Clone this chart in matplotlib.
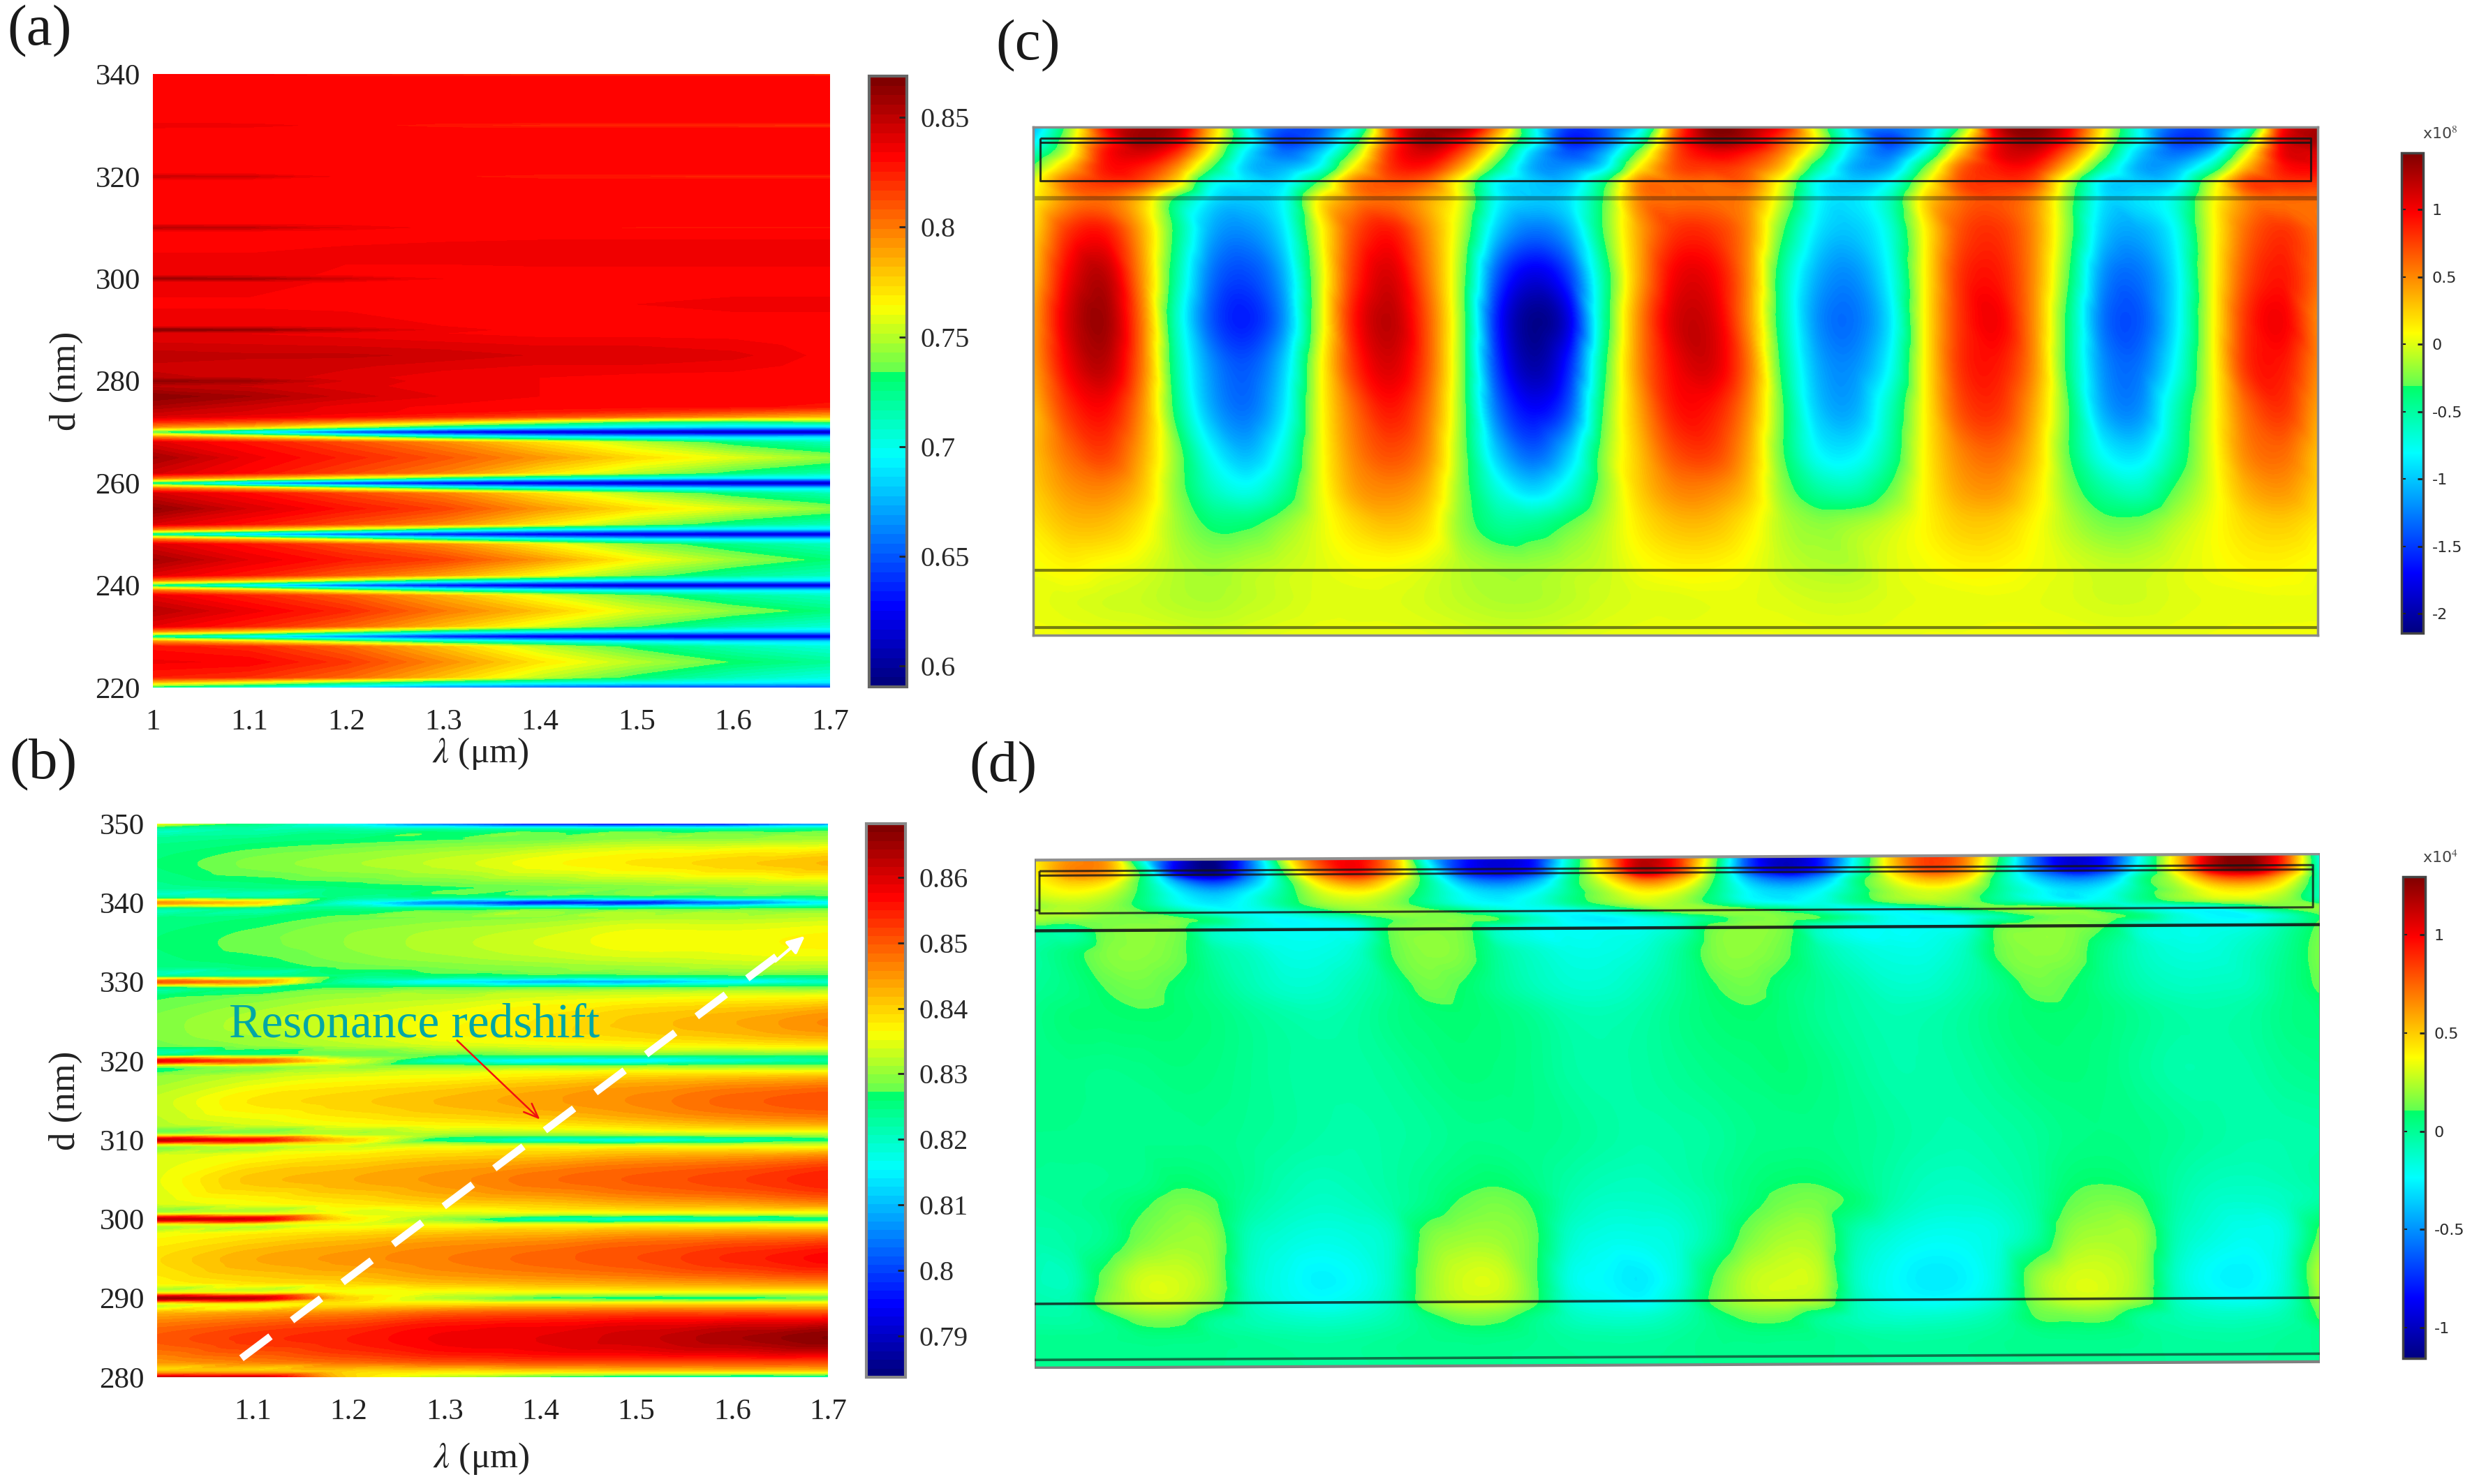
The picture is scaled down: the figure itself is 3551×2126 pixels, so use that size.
import numpy as np
import matplotlib
matplotlib.use('Agg')
import matplotlib.pyplot as plt
from matplotlib.cm import ScalarMappable
from matplotlib.colors import LinearSegmentedColormap, ListedColormap, Normalize
from matplotlib.tri import Triangulation, CubicTriInterpolator

plt.rcParams['font.family'] = ['Liberation Serif', 'DejaVu Sans']
plt.rcParams['mathtext.fontset'] = 'stix'

W, H = 3551, 2126

# ---------------- panel (a) ----------------
a_wavelength = [1.0, 1.1, 1.2, 1.3, 1.4, 1.5, 1.6, 1.7]
a_thickness = [220, 221, 222, 225, 228, 229, 230, 231, 232, 235, 238, 239, 240, 241, 242, 245,
               248, 249, 250, 251, 252, 255, 258, 259, 260, 261, 262, 265, 268, 269, 270, 271,
               272, 273, 274, 275, 277, 279, 280, 280.7, 283, 285, 287, 289.3, 290, 290.7, 295,
               299.3, 300, 300.7, 305, 309.3, 310, 310.7, 315, 319.3, 320, 320.7, 325, 329.3,
               330, 330.7, 335, 339.5, 340]
a_values = [
    [720, 700, 680, 660, 650, 640, 640, 640],
    [780, 760, 735, 715, 705, 700, 695, 690],
    [825, 820, 805, 780, 752, 730, 712, 702],
    [835, 833, 818, 795, 770, 750, 733, 722],
    [828, 822, 805, 780, 752, 730, 714, 704],
    [795, 775, 745, 718, 702, 692, 686, 686],
    [715, 690, 660, 630, 615, 610, 610, 610],
    [795, 775, 745, 718, 702, 692, 686, 686],
    [838, 824, 806, 782, 758, 735, 715, 706],
    [852, 836, 822, 800, 780, 757, 742, 728],
    [838, 824, 808, 785, 760, 738, 720, 710],
    [800, 780, 750, 720, 702, 692, 690, 690],
    [720, 690, 650, 625, 612, 608, 610, 610],
    [800, 780, 750, 720, 702, 692, 690, 690],
    [840, 826, 808, 790, 765, 740, 722, 712],
    [857, 838, 826, 815, 792, 765, 745, 730],
    [842, 828, 812, 795, 768, 742, 725, 712],
    [800, 780, 752, 722, 702, 692, 688, 688],
    [715, 680, 650, 628, 618, 612, 610, 610],
    [800, 780, 752, 722, 702, 692, 688, 688],
    [842, 828, 812, 796, 770, 745, 726, 714],
    [862, 842, 828, 815, 792, 772, 757, 742],
    [844, 830, 814, 798, 772, 748, 728, 714],
    [802, 782, 752, 722, 702, 692, 686, 686],
    [720, 668, 638, 622, 612, 606, 604, 604],
    [802, 782, 755, 725, 705, 694, 688, 688],
    [844, 830, 814, 798, 772, 750, 730, 716],
    [857, 836, 824, 810, 792, 773, 758, 743],
    [840, 828, 812, 795, 772, 750, 728, 712],
    [798, 778, 748, 718, 698, 688, 684, 686],
    [730, 690, 645, 622, 612, 606, 604, 604],
    [795, 780, 750, 718, 700, 690, 684, 686],
    [822, 812, 796, 775, 752, 732, 725, 735],
    [842, 836, 830, 822, 812, 802, 792, 782],
    [848, 842, 836, 832, 828, 822, 815, 806],
    [855, 845, 836, 833, 832, 832, 831, 828],
    [864, 856, 845, 838, 834, 832, 832, 832],
    [850, 846, 840, 836, 834, 832, 832, 832],
    [862, 858, 842, 836, 834, 832, 832, 832],
    [848, 846, 840, 836, 834, 832, 832, 832],
    [846, 845, 844, 840, 838, 838, 836, 832],
    [850, 848, 848, 846, 842, 842, 840, 832],
    [844, 843, 842, 840, 838, 838, 836, 832],
    [838, 838, 836, 834, 832, 832, 832, 832],
    [864, 862, 848, 836, 832, 832, 832, 832],
    [838, 838, 836, 834, 832, 832, 832, 832],
    [833, 833, 833, 834, 834, 834, 835, 835],
    [836, 836, 833, 832, 832, 832, 832, 832],
    [858, 856, 844, 834, 832, 832, 832, 832],
    [836, 836, 833, 832, 832, 832, 832, 832],
    [834, 834, 835, 836, 837, 837, 837, 837],
    [834, 834, 832, 832, 832, 832, 832, 832],
    [850, 848, 838, 832, 830, 829, 829, 829],
    [834, 834, 832, 832, 832, 832, 832, 832],
    [832, 832, 832, 832, 832, 832, 832, 832],
    [832, 832, 832, 832, 832, 832, 832, 832],
    [846, 844, 832, 830, 826, 824, 823, 823],
    [832, 832, 832, 832, 832, 832, 832, 832],
    [832, 832, 832, 832, 832, 832, 832, 832],
    [832, 832, 832, 832, 832, 832, 832, 832],
    [838, 836, 832, 826, 822, 820, 820, 818],
    [832, 832, 832, 832, 832, 832, 832, 832],
    [832, 832, 832, 832, 832, 832, 832, 832],
    [831, 831, 831, 831, 831, 831, 831, 831],
    [830, 830, 826, 822, 818, 816, 816, 814],
]
a_xticks = [1, 1.1, 1.2, 1.3, 1.4, 1.5, 1.6, 1.7]
a_xticklabels = ['1', '1.1', '1.2', '1.3', '1.4', '1.5', '1.6', '1.7']
a_yticks = [220, 240, 260, 280, 300, 320, 340]
a_cticks = [0.6, 0.65, 0.7, 0.75, 0.8, 0.85]
a_cticklabels = ['0.6', '0.65', '0.7', '0.75', '0.8', '0.85']
a_range = (0.5905, 0.8688)

# ---------------- panel (b) ----------------
b_wavelength = [1.0, 1.1, 1.2, 1.3, 1.4, 1.5, 1.6, 1.7]
b_thickness = [280, 280.7, 282, 285, 288, 289.3, 290, 290.7, 292, 295, 298, 299.3, 300, 300.7,
               302, 305, 308, 309.3, 310, 310.7, 312, 315, 318, 319.3, 320, 320.7, 322, 325,
               328, 329.3, 330, 330.7, 332, 335, 338, 339.3, 340, 340.7, 342, 345, 348, 349.3, 350]
b_values = [
    [862, 862, 840, 832, 826, 822, 820, 820],
    [842, 842, 840, 838, 838, 838, 838, 838],
    [845, 847, 849, 851, 852, 852, 852, 852],
    [850, 853, 855, 858, 859, 861, 864, 867],
    [843, 845, 847, 850, 851, 852, 852, 852],
    [836, 837, 838, 838, 838, 838, 838, 838],
    [865, 862, 840, 832, 827, 826, 826, 828],
    [836, 836, 836, 835, 835, 835, 835, 835],
    [837, 839, 840, 842, 843, 844, 845, 846],
    [839, 843, 845, 847, 849, 851, 854, 857],
    [836, 838, 840, 842, 843, 845, 846, 847],
    [835, 835, 835, 835, 835, 835, 835, 835],
    [862, 860, 838, 830, 822, 820, 822, 825],
    [834, 835, 835, 834, 834, 834, 834, 834],
    [834, 836, 838, 840, 841, 843, 844, 846],
    [835, 841, 843, 845, 848, 850, 852, 855],
    [834, 836, 838, 840, 841, 843, 844, 846],
    [833, 834, 834, 834, 834, 834, 834, 834],
    [862, 857, 840, 825, 820, 818, 822, 826],
    [832, 832, 832, 831, 830, 831, 832, 832],
    [832, 834, 836, 837, 838, 840, 842, 843],
    [833, 838, 840, 842, 844, 846, 849, 851],
    [830, 833, 835, 836, 838, 840, 841, 842],
    [830, 831, 831, 830, 830, 830, 830, 830],
    [858, 850, 835, 820, 815, 815, 820, 823],
    [826, 828, 828, 827, 827, 827, 827, 827],
    [828, 830, 832, 834, 835, 836, 837, 838],
    [829, 832, 834, 836, 838, 841, 843, 846],
    [827, 829, 831, 832, 834, 835, 836, 837],
    [826, 827, 827, 827, 827, 827, 828, 828],
    [850, 845, 822, 815, 810, 810, 815, 820],
    [824, 825, 825, 825, 825, 825, 826, 826],
    [825, 826, 828, 829, 830, 831, 832, 832],
    [826, 828, 830, 832, 834, 836, 836, 837],
    [825, 826, 828, 829, 830, 832, 832, 833],
    [824, 824, 824, 824, 825, 825, 826, 827],
    [845, 840, 818, 805, 797, 797, 805, 815],
    [823, 823, 824, 824, 824, 824, 825, 826],
    [824, 825, 826, 827, 828, 829, 830, 831],
    [826, 829, 831, 833, 836, 838, 840, 842],
    [824, 825, 826, 827, 828, 830, 830, 831],
    [822, 822, 822, 822, 822, 822, 822, 824],
    [836, 825, 815, 802, 794, 792, 795, 805],
]
b_xticks = [1.1, 1.2, 1.3, 1.4, 1.5, 1.6, 1.7]
b_yticks = [280, 290, 300, 310, 320, 330, 340, 350]
b_cticks = [0.79, 0.8, 0.81, 0.82, 0.83, 0.84, 0.85, 0.86]
b_cticklabels = ['0.79', '0.8', '0.81', '0.82', '0.83', '0.84', '0.85', '0.86']
b_range = (0.7837, 0.8682)

# ---------------- panel (c), field in units of 10^7 ----------------
c_rows = [286, 315, 345, 375, 410, 450, 520, 620, 720, 820, 920, 1020, 1100, 1180, 1280, 1350, 1427]
c_field = [
    [-11, -2, 9, 13, 12, 3, -8, -14, -14, -8, 7, 13, 13, 5, -7, -15, -14, -9, 6, 14, 13, 9, -1, -10, -13, -11, -3, 11, 14, 10, 1, -8, -14, -14, -8, 9, 13],
    [-9, -1, 8, 13, 11, 2, -7, -15, -13, -5, 7, 13, 10, 2, -7, -16, -14, -6, 7, 13, 12, 7, 0, -9, -15, -10, 0, 10, 13, 9, 0, -8, -15, -14, -4, 10, 13],
    [-6, 0, 9, 11, 8, 0, -9, -13, -10, -2, 8, 11, 7, -1, -10, -14, -11, -2, 7, 10, 9, 5, -2, -10, -13, -7, 3, 10, 11, 6, -2, -10, -13, -10, 0, 10, 11],
    [-3, 3, 9, 9, 5, -3, -10, -11, -8, 1, 8, 9, 4, -4, -11, -12, -9, 1, 7, 8, 7, 3, -5, -11, -11, -3, 6, 9, 9, 3, -5, -11, -11, -6, 3, 9, 10],
    [0, 6, 8, 7, 2, -7, -9, -9, -3, 5, 7, 6, 0, -8, -10, -10, -4, 5, 6, 6, 6, 0, -8, -10, -8, 0, 7, 8, 7, -1, -9, -10, -9, -1, 7, 8, 8],
    [1, 5, 6, 3, -4, -9, -10, -8, 1, 5, 6, 4, 0, -8, -10, -9, -3, 5, 6, 6, 5, -1, -8, -9, -6, 2, 6, 7, 5, -2, -9, -9, -7, 0, 5, 6, 6],
    [2, 8, 9, 4, -4, -11, -12, -9, 0, 7, 9, 5, -1, -10, -13, -11, -3, 4, 8, 8, 5, -3, -9, -10, -7, 1, 7, 8, 5, -2, -10, -11, -8, 0, 6, 8, 6],
    [3, 10, 12, 5, -5, -13, -14.5, -11, -1, 8, 11, 6, -2, -14, -18, -15, -5, 4, 10, 10, 5, -5, -11, -12, -8, 1, 8, 9, 5, -3, -12, -13, -9, 0, 7, 9, 6],
    [4, 11, 13, 6, -6, -14, -16, -12, -1, 9, 12, 7, -2, -16, -21, -18, -5, 5, 11, 11, 5, -5, -12, -13, -9, 1, 8, 10, 5, -4, -13, -14, -9, 0, 8, 10, 5],
    [4, 10, 12, 6, -5, -12, -14, -10, 0, 8, 11, 7, -2, -15, -20, -16, -4, 5, 10, 11, 6, -4, -11, -12, -8, 1, 8, 9, 5, -4, -12, -13, -8, 0, 8, 9, 5],
    [3, 8, 9.5, 5, -4, -11, -13, -9, 0, 6, 9, 6, -2, -13, -17, -14, -3, 4, 9, 9, 5, -3, -10, -11, -6, 1, 7, 8, 4, -3, -11, -12, -6, 0, 6, 8, 4],
    [3, 6, 7.5, 4, -2, -8, -10.5, -7, 0, 5, 7, 5, -2, -10, -13.5, -10, -2, 3, 7, 7.5, 4, -3, -8, -8.5, -5, 1, 5, 6, 3, -3, -8, -9, -5, 0, 5, 6, 3],
    [2.5, 4.5, 5, 3, -2, -6, -7.5, -5, 0, 4, 5, 3.5, -2, -7, -9.5, -7, -2, 2.5, 5, 5, 3, -2, -5, -5.5, -3, 1, 4, 4.5, 2, -2, -5, -6, -3, 0, 3.5, 4.5, 2.5],
    [1.5, 3, 3, 1.5, -1.5, -3.5, -3.5, -2, 0, 2, 3, 2, -2, -4.5, -4.5, -3, -1, 1.5, 3, 3, 1.5, -1, -2, -1.5, -0.5, 1, 2.5, 2.5, 1, -1, -2.5, -2.5, -1, 0.5, 2, 2.5, 1.5],
    [0.5, 1, 0.5, 0, -1, -1.5, -1, -0.5, 0, 0.5, 0.5, 0, -1, -1.5, -1.5, -1, -0.5, 0.5, 1, 1, 0.5, -0.5, -1, -1, 0, 0.5, 1, 1, 0.5, 0, -0.5, -0.5, 0, 0.5, 1, 1, 0.5],
    [0.3, 0, -0.3, -0.5, -1, -1.2, -0.8, -0.4, 0, 0, 0, -0.3, -0.8, -1.2, -1.2, -0.8, -0.3, 0, 0, 0.2, 0.2, 0, -0.3, -0.3, 0, 0.2, 0.2, 0.3, 0.2, 0, -0.3, -0.3, 0, 0.2, 0.2, 0.3, 0.3],
    [0.5, 0.4, 0.3, 0.2, 0, -0.2, 0, 0.2, 0.3, 0.3, 0.3, 0.2, 0, -0.2, -0.2, 0, 0.2, 0.3, 0.4, 0.4, 0.4, 0.4, 0.3, 0.3, 0.3, 0.4, 0.4, 0.5, 0.5, 0.4, 0.3, 0.3, 0.3, 0.4, 0.5, 0.5, 0.5],
]
c_cticks = [-2, -1.5, -1, -0.5, 0, 0.5, 1]
c_cticklabels = ['-2', '-1.5', '-1', '-0.5', '0', '0.5', '1']
c_range = (-2.145, 1.42)

# ---------------- panel (d), field in units of 10^2 ----------------
d_rows = [268, 300, 320, 345, 370, 388, 405, 425, 480, 560, 620, 750, 900, 1000, 1040, 1120, 1220, 1265, 1305, 1350, 1410]
d_field = [
    [40, 65, 60, -20, -90, -115, -60, 30, 85, 100, 60, -30, -80, -95, -80, -10, 60, 115, 90, 20, -70, -100, -80, -20, 50, 85, 70, 10, -60, -95, -80, -20, 50, 115, 128, 85, -20],
    [38, 65, 60, 5, -85, -110, -60, 10, 70, 95, 60, -10, -75, -90, -75, -5, 50, 110, 85, 15, -65, -95, -75, -15, 45, 80, 65, 5, -55, -90, -75, -15, 45, 110, 125, 80, -15],
    [35, 48, 42, 5, -45, -70, -45, 0, 45, 65, 40, 0, -45, -60, -45, 0, 35, 70, 55, 10, -40, -60, -45, 0, 32, 55, 45, 0, -35, -55, -45, 0, 30, 70, 80, 50, -10],
    [30, 35, 28, 5, -25, -40, -25, 0, 28, 38, 25, 0, -25, -35, -25, 0, 22, 40, 32, 5, -25, -35, -25, 0, 22, 32, 25, 0, -20, -32, -25, 0, 20, 40, 45, 30, -8],
    [20, 25, 20, 5, -18, -28, -20, 0, 18, 25, 18, 0, -18, -25, -18, 0, 15, 27, 22, 5, -18, -25, -18, 0, 15, 22, 18, 0, -15, -25, -18, 0, 15, 25, 28, 20, -5],
    [25, 25, 18, 12, 0, -15, -22, -15, 0, 15, 20, 15, 5, -10, -22, -22, -10, 5, 18, 20, 15, 5, -10, -22, -22, -10, 5, 15, 20, 15, 0, -15, -22, -20, -5, 12, 18],
    [20, 15, 15, 15, 15, 5, -15, -25, -20, -10, 10, 15, 15, 10, -10, -25, -28, -20, -10, 5, 15, 15, 10, -5, -20, -25, -20, -5, 10, 15, 15, 5, -15, -25, -25, -10, 10],
    [0, -2, 15, 18, 14, -10, -18, -22, -22, -18, 12, 17, 14, -10, -20, -22, -22, -20, -10, 13, 18, 14, -10, -20, -22, -22, -18, 10, 16, 17, 10, -12, -18, -20, -18, -5, 12],
    [-2, 6, 16, 18, 13, -2, -10, -18, -18, -12, 10, 18, 15, -2, -12, -18, -18, -14, -2, 15, 18, 12, -4, -14, -18, -18, -10, 12, 18, 16, 2, -10, -16, -16, -10, 0, 15],
    [0, 4, 10, 13, 8, 2, -6, -12, -12, -6, 2, 13, 9, 0, -8, -13, -13, -8, 0, 9, 13, 6, 0, -6, -12, -12, -6, 2, 13, 10, 2, -6, -10, -10, -8, 2, 12],
    [3, 7, 8, 9, 8, 5, 0, -4, -6, -3, 3, 7, 8, 5, 0, -6, -7, -4, 2, 7, 9, 6, 0, -4, -7, -6, -2, 4, 8, 8, 5, 0, -4, -5, -3, 3, 6],
    [4, 3, 2, 3, 5, 4, 1, -2, -3, -3, -1, 3, 6, 5, 2, -3, -5, -3, 0, 3, 5, 7, 4, -1, -5, -5, -3, 1, 5, 6, 4, -1, -5, -5, -4, 0, 2],
    [2, 2, 2, 2, 2, 2, 0, -2, -4, -5, -3, -1, 2, 2, 2, 0, -3, -5, -4, -2, 2, 3, 3, 1, -2, -5, -6, -4, -1, 3, 4, 3, 0, -3, -5, -5, -4],
    [0, 0, 1, 3, 9, 6, 0, -6, -9, -7, -3, 2, 7, 9, 3, -4, -8, -9, -6, -1, 5, 9, 9, 3, -4, -9, -10, -7, -2, 7, 9, 5, -3, -8, -9, -7, -3],
    [-2, 0, 3, 8, 14, 11, -2, -8, -11, -9, -4, 3, 11, 14, 8, -6, -11, -11, -9, -3, 6, 13, 14, 7, -5, -11, -12, -10, -3, 10, 14, 10, -4, -11, -12, -10, -4],
    [-5, -3, 2, 14, 20, 18, -8, -15, -18, -16, -10, 14, 20, 20, 12, -12, -18, -18, -15, -3, 14, 22, 20, -6, -15, -20, -20, -16, -4, 18, 22, 20, -7, -16, -20, -16, 12],
    [-8, -8, 14, 30, 30, 20, -10, -20, -26, -22, -10, 18, 30, 30, 12, -18, -24, -28, -16, 10, 26, 30, 26, -10, -22, -28, -26, -14, 18, 30, 30, 20, -12, -24, -26, -14, 25],
    [-5, -5, 16, 27, 27, 16, -8, -18, -22, -18, -8, 17, 27, 26, 12, -14, -20, -24, -12, 12, 24, 27, 22, -8, -20, -24, -22, -12, 16, 28, 28, 18, -10, -20, -22, -12, 20],
    [-3, -3, 2, 13, 13, 0, -6, -10, -12, -10, -5, 4, 13, 12, 2, -8, -12, -12, -6, 3, 12, 12, 0, -8, -12, -12, -10, -4, 10, 13, 13, 0, -6, -10, -10, -6, 12],
    [2, 2, 2, 3, 3, 2, 0, -2, -3, -2, 0, 2, 3, 3, 1, -2, -3, -3, -1, 2, 3, 3, 2, -1, -3, -3, -2, 0, 2, 3, 3, 1, -2, -3, -3, -1, 2],
    [1, 1, 1, 1, 1, 1, 0, 0, -1, -1, 0, 1, 1, 1, 0, 0, -1, -1, 0, 1, 1, 1, 1, 0, -1, -1, -1, 0, 1, 1, 1, 0, -1, -1, -1, 0, 1],
]
d_cticks = [-1, -0.5, 0, 0.5, 1]
d_cticklabels = ['-1', '-0.5', '0', '0.5', '1']
d_range = (-1.156, 1.295)

# ---------------- colour map: jet with a step in the green ----------------
step = 0.515
rainbow = LinearSegmentedColormap('rainbow_step', {
    'red':   [(0, 0, 0), (0.375, 0, 0), (step, 0, 0.38), (0.625, 1, 1), (0.875, 1, 1), (1, 0.5, 0.5)],
    'green': [(0, 0, 0), (0.125, 0, 0), (0.375, 1, 1), (0.625, 1, 1), (0.875, 0, 0), (1, 0, 0)],
    'blue':  [(0, 0.5, 0.5), (0.125, 1, 1), (0.375, 1, 1), (step, 0.4, 0.32), (0.625, 0, 0), (1, 0, 0)],
}, N=1024)
stepped = ListedColormap(rainbow(np.linspace(0, 1, 64)))


def axes_px(left, top, right, bottom):
    return fig.add_axes([left / W, 1 - bottom / H, (right - left) / W, (bottom - top) / H])


def text_px(x, y, s, **kw):
    fig.text(x / W, 1 - y / H, s, **kw)


def smooth_contour(ax, xs, ys, zs, rng, nlev, cmap, nx, ny, tilt=0.0):
    """Contour the read values through matplotlib's own cubic triangulated surface."""
    xs, ys, zs = np.asarray(xs, float), np.asarray(ys, float), np.asarray(zs, float)
    X, Y = np.meshgrid(xs, ys)
    nr, nc = X.shape
    idx = np.arange(nr * nc).reshape(nr, nc)
    tri = np.vstack([
        np.c_[idx[:-1, :-1].ravel(), idx[:-1, 1:].ravel(), idx[1:, 1:].ravel()],
        np.c_[idx[:-1, :-1].ravel(), idx[1:, 1:].ravel(), idx[1:, :-1].ravel()],
    ])
    surface = CubicTriInterpolator(Triangulation(X.ravel(), Y.ravel(), tri), zs.ravel(), kind='geom')
    fx, fy = np.meshgrid(np.linspace(xs[0], xs[-1], nx), np.linspace(ys[0], ys[-1], ny))
    fz = np.ma.filled(surface(fx, fy), np.nan)
    fy = fy - tilt * (fx - xs[0])
    ax.contourf(fx, fy, fz, levels=np.linspace(*rng, nlev), cmap=cmap, norm=Normalize(*rng), extend='both')


def colorbar(rect, rng, cmap, ticks, labels, fontsize, family, both, edge, lw, length, pad):
    cax = axes_px(*rect)
    cb = fig.colorbar(ScalarMappable(norm=Normalize(*rng), cmap=cmap), cax=cax, ticks=ticks)
    cb.ax.set_yticklabels(labels, fontsize=fontsize, family=family, color='#2a2a2a')
    cb.ax.tick_params(axis='y', direction='in', length=length, width=2, color='#222222', pad=pad)
    if both:
        for t in ticks:
            cb.ax.plot([0, 0.16], [t, t], color='#222222', lw=1.5, transform=cb.ax.get_yaxis_transform())
    cb.outline.set_edgecolor(edge)
    cb.outline.set_linewidth(lw)
    return cb


fig = plt.figure(figsize=(W / 100, H / 100), dpi=100, facecolor='white')

# ---- (a) ----
ax = axes_px(219, 106.5, 1189, 985)
ax.contourf(a_wavelength, a_thickness, np.array(a_values) / 1000,
            levels=np.linspace(*a_range, 65), cmap=stepped, norm=Normalize(*a_range), extend='both')
ax.set_xlim(1, 1.7)
ax.set_ylim(220, 340)
ax.set_xticks(a_xticks, a_xticklabels)
ax.set_yticks(a_yticks)
ax.tick_params(length=0, labelsize=31, labelcolor='#222222')
ax.tick_params(axis='x', pad=22)
ax.tick_params(axis='y', pad=13)
for s in ax.spines.values():
    s.set_visible(False)
ax.set_xlabel(r'$\lambda$ (μm)', fontsize=37, color='#222222')
ax.xaxis.set_label_coords(0.484, -0.079)
ax.set_ylabel('d (nm)', fontsize=38, color='#222222')
ax.yaxis.set_label_coords(-0.103, 0.5)
colorbar((1245, 109, 1299, 984), a_range, stepped, a_cticks, a_cticklabels, 29,
         'Liberation Serif', False, '#666666', 3, 8, 14)

# ---- (b) ----
ax = axes_px(225, 1180, 1186, 1973)
smooth_contour(ax, b_wavelength, b_thickness, np.array(b_values) / 1000, b_range, 65, stepped, 500, 1000)
ax.set_xlim(1, 1.7)
ax.set_ylim(280, 350)
ax.set_xticks(b_xticks, [str(v) for v in b_xticks])
ax.set_yticks(b_yticks)
ax.tick_params(length=0, labelsize=31, labelcolor='#222222')
ax.tick_params(axis='x', pad=22)
ax.tick_params(axis='y', pad=13)
for s in ax.spines.values():
    s.set_visible(False)
ax.set_xlabel(r'$\lambda$ (μm)', fontsize=37, color='#222222')
ax.xaxis.set_label_coords(0.483, -0.115)
ax.set_ylabel('d (nm)', fontsize=38, color='#222222')
ax.yaxis.set_label_coords(-0.111, 0.5)
ax.plot([1.088, 1.655], [282.4, 334.0], color='white', lw=7.5, ls=(0, (5, 3.7)), dash_capstyle='butt')
ax.annotate('', xy=(1.676, 335.8), xytext=(1.645, 332.6),
            arrowprops=dict(arrowstyle='-|>,head_length=1.5,head_width=0.7', color='white', lw=3,
                            shrinkA=0, shrinkB=0))
ax.annotate('', xy=(1.3995, 312.6), xytext=(1.313, 322.6),
            arrowprops=dict(arrowstyle='->,head_length=1.5,head_width=0.6', color='#f01010', lw=1.8,
                            shrinkA=0, shrinkB=0))
ax.text(1.075, 324.5, 'Resonance redshift', fontsize=50, color='#00a6a6', va='center', ha='left')
colorbar((1241, 1180, 1297, 1973), b_range, stepped, b_cticks, b_cticklabels, 29,
         'Liberation Serif', False, '#888888', 3, 8, 14)

# ---- (c) ----
ax = axes_px(1480, 182, 3320, 910)
c_cols = np.linspace(58, 1400, 37)
smooth_contour(ax, c_cols, c_rows, np.array(c_field) / 10, c_range, 161, rainbow, 1000, 800)
ax.set_xlim(58, 1400)
ax.set_ylim(1427, 286)
ax.set_xticks([])
ax.set_yticks([])
for s in ax.spines.values():
    s.set_color('#8a8a8a')
    s.set_linewidth(2.5)
line = dict(color='#151515', solid_capstyle='butt')
ax.plot([65, 1393, 1393, 65, 65], [311, 311, 407, 407, 311], lw=2.2, alpha=0.85, **line)
ax.plot([65, 1393], [320, 320], lw=2.2, alpha=0.85, **line)
ax.plot([58, 1400], [446, 446], lw=4.5, alpha=0.35, **line)
ax.plot([58, 1400], [1282, 1282], lw=3, alpha=0.55, **line)
ax.plot([58, 1400], [1409, 1409], lw=3, alpha=0.55, **line)
colorbar((3440, 219, 3471, 907), c_range, rainbow, c_cticks, c_cticklabels, 16,
         'DejaVu Sans', True, '#444444', 2.5, 6, 9)
text_px(3470, 192, r'x10$^{8}$', fontsize=16, family='DejaVu Sans', color='#444444', va='center')

# ---- (d) ----
ax = axes_px(1482, 1222, 3323, 1961)
d_cols = np.linspace(87, 1405, 37)
tilt = 14 / 1318
smooth_contour(ax, d_cols, d_rows, np.array(d_field) / 100, d_range, 161, rainbow, 1000, 800, tilt=tilt)
ax.set_xlim(87, 1405)
ax.set_ylim(1412, 252)
ax.axis('off')


def tilted(xs, ys, **kw):
    xs = np.asarray(xs, float)
    ax.plot(xs, np.asarray(ys, float) - tilt * (xs - 87), **kw)


tilted([87, 1405], [268, 268], color='#909090', lw=3)
tilted([87, 1405], [1410, 1410], color='#808080', lw=3)
tilted([87, 87], [268, 1410], color='#808080', lw=2)
tilted([1405, 1405], [268, 1410], color='#808080', lw=2)
tilted([92, 1398, 1398, 92, 92], [293, 293, 388, 388, 293], lw=2.2, alpha=0.8, **line)
tilted([92, 1398], [303, 303], lw=2.2, alpha=0.8, **line)
tilted([87, 92], [381, 381], lw=2.2, alpha=0.8, **line)
tilted([87, 1405], [427, 427], lw=3.2, alpha=0.9, **line)
tilted([87, 1405], [1266, 1266], lw=2.6, alpha=0.8, **line)
tilted([87, 1405], [1392, 1392], lw=2.6, alpha=0.6, **line)
colorbar((3442, 1256, 3474, 1946), d_range, rainbow, d_cticks, d_cticklabels, 16,
         'DejaVu Sans', True, '#444444', 2.5, 6, 9)
text_px(3470, 1229, r'x10$^{4}$', fontsize=16, family='DejaVu Sans', color='#444444', va='center')

# ---- panel letters ----
letter = dict(fontsize=60, color='#1a1a1a', va='center', ha='left')
text_px(10, 45, '(a)', **letter)
text_px(13, 1096, '(b)', **letter)
text_px(1426, 66, '(c)', **letter)
text_px(1388, 1100, '(d)', **letter)

fig.savefig('out.png', dpi=100, facecolor='white')
